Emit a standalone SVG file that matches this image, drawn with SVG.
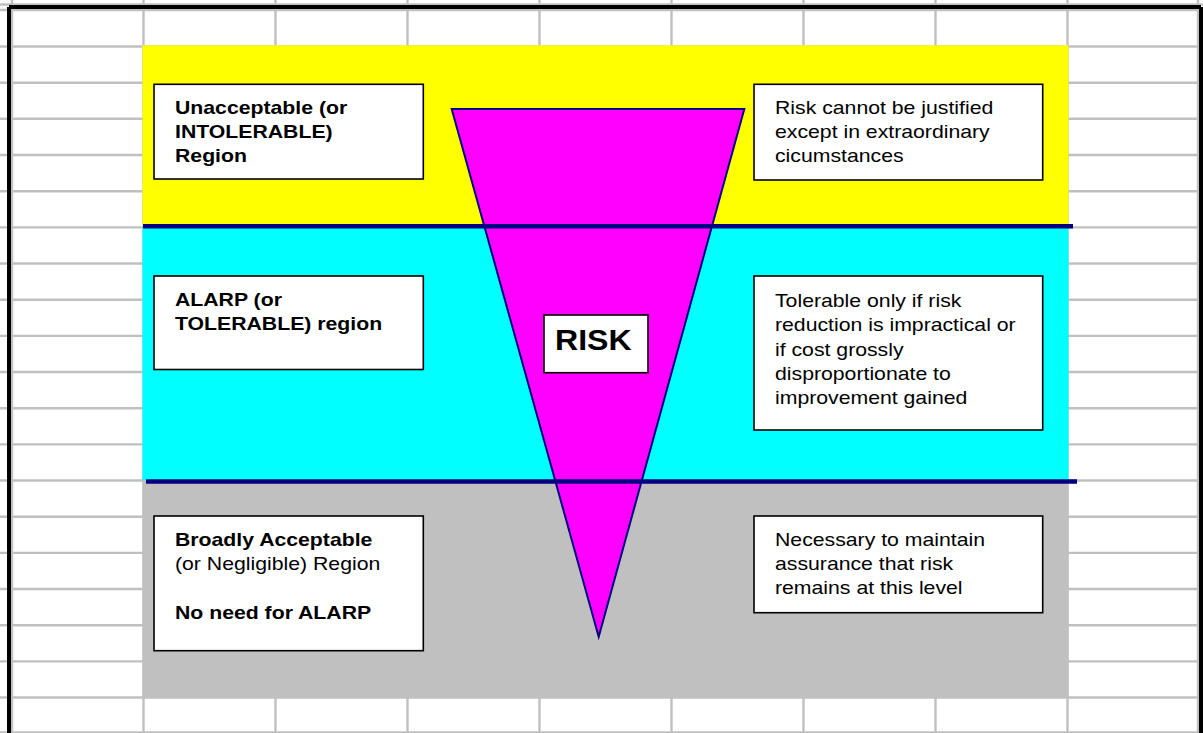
<svg xmlns="http://www.w3.org/2000/svg" width="1203" height="733" viewBox="0 0 1203 733">
<style>
.grid{stroke:#C0C0C0;stroke-width:2.4;fill:none}
.box{fill:#FFFFFF;stroke:#000000;stroke-width:1.6}
.t{font-family:"Liberation Sans",Arial,sans-serif;font-size:18px;fill:#000000}
.b{font-weight:bold}
.sep{stroke:#000080;stroke-width:4.5}
</style>
<rect x="0" y="0" width="1203" height="733" fill="#FFFFFF"/>
<g id="grid">
<path class="grid" d="M0,4.5H1203 M0,10H1203 M0,46.5H1203 M0,82.7H1203 M0,118.8H1203 M0,155H1203 M0,191.2H1203 M0,227.4H1203 M0,263.5H1203 M0,299.7H1203 M0,335.9H1203 M0,372H1203 M0,408.2H1203 M0,444.4H1203 M0,480.5H1203 M0,516.7H1203 M0,552.9H1203 M0,589H1203 M0,625.2H1203 M0,661.4H1203 M0,697.5H1203 M0,732.5H1203"/>
<path class="grid" d="M12,0V733 M143.5,0V733 M275.5,0V733 M407.5,0V733 M539.5,0V733 M671.5,0V733 M803.5,0V733 M935.5,0V733 M1067.5,0V733 M1198,0V733"/>
<path d="M9,7H1201 M9,7V733 M1201,7V733" stroke="#000000" stroke-width="4" fill="none"/>
</g>
<g id="bands">
<rect x="142.5" y="45.3" width="926" height="181.2" fill="#FFFF00"/>
<rect x="142.5" y="226.5" width="926" height="254" fill="#00FFFF"/>
<rect x="142.5" y="480.5" width="926" height="216.5" fill="#C0C0C0"/>
</g>
<g id="triangle">
<polygon points="451.7,109 744.3,109 598.7,636.7" fill="#FF00FF" stroke="#000080" stroke-width="2" stroke-linejoin="miter"/>
</g>
<g id="connectors">
<line class="sep" x1="143" y1="226.3" x2="1073" y2="226.3"/>
<line class="sep" x1="146" y1="481.5" x2="1077" y2="481.5"/>
</g>
<g id="box-unacceptable">
<rect class="box" x="154" y="84.3" width="269.3" height="94.7"/>
<text class="t b" transform="translate(175 0) scale(1.18 1)"><tspan x="0" y="114">Unacceptable (or</tspan><tspan x="0" y="138.3">INTOLERABLE)</tspan><tspan x="0" y="162.3">Region</tspan></text>
</g>
<g id="box-unacceptable-desc">
<rect class="box" x="754" y="84.3" width="288.7" height="95.7"/>
<text class="t" transform="translate(775 0) scale(1.18 1)"><tspan x="0" y="114">Risk cannot be justified</tspan><tspan x="0" y="138.3">except  in extraordinary</tspan><tspan x="0" y="162.3">cicumstances</tspan></text>
</g>
<g id="box-alarp">
<rect class="box" x="154" y="276" width="269.3" height="93.5"/>
<text class="t b" transform="translate(175 0) scale(1.18 1)"><tspan x="0" y="305.7">ALARP (or</tspan><tspan x="0" y="330.5">TOLERABLE) region</tspan></text>
</g>
<g id="box-risk">
<rect class="box" x="544" y="315" width="104" height="57.7" stroke-width="2"/>
<text class="t b" style="font-size:30px" transform="translate(555 0) scale(1.07 1)" x="0" y="350">RISK</text>
</g>
<g id="box-alarp-desc">
<rect class="box" x="754" y="276" width="288.7" height="154"/>
<text class="t" transform="translate(775 0) scale(1.18 1)"><tspan x="0" y="306.7">Tolerable only if risk</tspan><tspan x="0" y="331.2">reduction is impractical or</tspan><tspan x="0" y="355.6">if cost grossly</tspan><tspan x="0" y="380">disproportionate to</tspan><tspan x="0" y="404.3">improvement gained</tspan></text>
</g>
<g id="box-acceptable">
<rect class="box" x="154" y="516" width="269.3" height="134.7"/>
<text class="t" transform="translate(175 0) scale(1.18 1)"><tspan x="0" y="546" font-weight="bold">Broadly Acceptable</tspan><tspan x="0" y="570">(or Negligible) Region</tspan><tspan x="0" y="619" font-weight="bold">No need for ALARP</tspan></text>
</g>
<g id="box-acceptable-desc">
<rect class="box" x="754" y="516" width="288.7" height="96.7"/>
<text class="t" transform="translate(775 0) scale(1.18 1)"><tspan x="0" y="546">Necessary to maintain</tspan><tspan x="0" y="570">assurance that risk</tspan><tspan x="0" y="594">remains at this level</tspan></text>
</g>
</svg>
